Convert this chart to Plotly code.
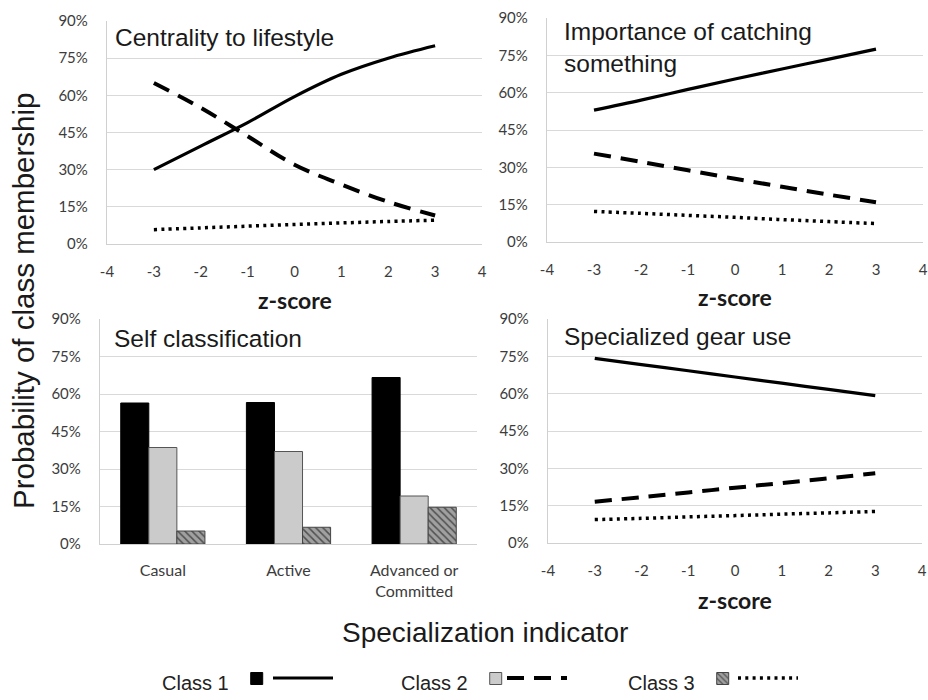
import plotly.graph_objects as go

# ---------------- data ----------------
z = [-3, -2, -1, 0, 1, 2, 3]
z_tick_vals = [-4, -3, -2, -1, 0, 1, 2, 3, 4]
z_tick_text = ["-4", "-3", "-2", "-1", "0", "1", "2", "3", "4"]
pct_tick_vals = [0, 15, 30, 45, 60, 75, 90]
pct_tick_text = ["0%", "15%", "30%", "45%", "60%", "75%", "90%"]

centrality_c1 = [30, 39.5, 49, 59.5, 68.5, 75, 80]
centrality_c2 = [65, 55, 43.5, 32, 24, 17, 11.5]
centrality_c3 = [5.8, 6.5, 7.2, 7.9, 8.5, 9.1, 9.6]

catching_c1 = [53, 57, 61.3, 65.5, 69.5, 73.5, 77.5]
catching_c2 = [35.5, 32.2, 28.8, 25.4, 22.2, 19, 16]
catching_c3 = [12.3, 11.5, 10.7, 9.9, 9.0, 8.2, 7.4]

gear_c1 = [74.2, 71.7, 69.2, 66.7, 64.2, 61.7, 59.2]
gear_c2 = [16.6, 18.4, 20.3, 22.2, 24.1, 26, 28]
gear_c3 = [9.4, 9.9, 10.5, 11.0, 11.6, 12.1, 12.7]

self_categories = ["Casual", "Active", "Advanced or<br>Committed"]
self_c1 = [56.4, 56.6, 66.6]
self_c2 = [38.6, 37.0, 19.2]
self_c3 = [5.2, 6.7, 14.7]

class_names = ["Class 1", "Class 2", "Class 3"]

# ---------------- styles ----------------
line_styles = [
    dict(color="black", width=3.2, dash="solid"),
    dict(color="black", width=4, dash="17px,10px"),
    dict(color="black", width=3.5, dash="3px,4.3px"),
]
bar_styles = [
    dict(color="black", line=dict(color="black", width=1)),
    dict(color="#cbcbcb", line=dict(color="#555555", width=1)),
    dict(color="#9a9a9a", line=dict(color="#444444", width=1),
         pattern=dict(shape="\\", fgcolor="#505050", bgcolor="#a0a0a0",
                      size=5, solidity=0.3)),
]
bar_legends = ["legend", "legend2", "legend3"]
line_legends = ["legend4", "legend5", "legend6"]

fig = go.Figure()

for i, vals in enumerate([self_c1, self_c2, self_c3]):
    fig.add_trace(go.Bar(
        x=self_categories, y=vals, marker=bar_styles[i],
        xaxis="x3", yaxis="y3", name="", legend=bar_legends[i],
        showlegend=True,
    ))

panels = [
    ("x", "y", [centrality_c1, centrality_c2, centrality_c3]),
    ("x2", "y2", [catching_c1, catching_c2, catching_c3]),
    ("x4", "y4", [gear_c1, gear_c2, gear_c3]),
]
for p, (xa, ya, series) in enumerate(panels):
    for i, vals in enumerate(series):
        fig.add_trace(go.Scatter(
            x=z, y=vals, mode="lines", line=dict(**line_styles[i], shape="spline"),
            xaxis=xa, yaxis=ya, name="", legend=line_legends[i],
            showlegend=(p == 0),
        ))

W, H = 928, 700


def px_x(a, b):
    return [a / W, b / W]


def px_y(top, bottom):
    return [1 - bottom / H, 1 - top / H]


tick_font = dict(family="Lato", size=15, color="#3c3c3c")
grid = "#d9d9d9"

common_x = dict(
    range=[-4, 4], tickvals=z_tick_vals, ticktext=z_tick_text,
    showgrid=False, zeroline=False, showline=True, linecolor="#d0d0d0",
    linewidth=1.3, ticks="outside", ticklen=14, tickcolor="rgba(0,0,0,0)",
    tickfont=tick_font, fixedrange=True, automargin=False,
)
common_y = dict(
    range=[0, 90], tickvals=pct_tick_vals, ticktext=pct_tick_text,
    showgrid=True, gridcolor=grid, gridwidth=1.3, zeroline=False,
    showline=True, linecolor="#d0d0d0", linewidth=1.3,
    ticks="outside", ticklen=15, tickcolor="rgba(0,0,0,0)",
    tickfont=tick_font, fixedrange=True, automargin=False,
)

fig.update_layout(
    template="none",
    width=W, height=H, autosize=False,
    margin=dict(l=0, r=0, t=0, b=0, pad=0),
    paper_bgcolor="white", plot_bgcolor="white",
    font=dict(family="Liberation Sans", color="#1a1a1a"),
    bargap=0.33, bargroupgap=0,
    xaxis=dict(common_x, domain=px_x(107, 482), anchor="y"),
    yaxis=dict(common_y, domain=px_y(21, 244), anchor="x"),
    xaxis2=dict(common_x, domain=px_x(547, 923), anchor="y2"),
    yaxis2=dict(common_y, domain=px_y(18, 242), anchor="x2"),
    xaxis3=dict(domain=px_x(100, 477), anchor="y3", showline=True,
                linecolor="#d0d0d0", linewidth=1.3, ticks="outside",
                ticklen=12, tickcolor="rgba(0,0,0,0)", showgrid=False,
                tickfont=dict(family="Lato", size=16, color="#3c3c3c"),
                fixedrange=True, automargin=False),
    yaxis3=dict(common_y, domain=px_y(319, 544), anchor="x3"),
    xaxis4=dict(common_x, domain=px_x(548, 922), anchor="y4"),
    yaxis4=dict(common_y, domain=px_y(319, 543), anchor="x4"),
)

bar_legend_x = [160, 399, 626]
line_legend_x = [268, 502, 733]
for i in range(3):
    fig.update_layout({bar_legends[i]: dict(
        title=dict(text=class_names[i], side="left",
                   font=dict(family="Liberation Sans", size=20, color="#222")),
        orientation="h", x=bar_legend_x[i] / W, xanchor="left",
        y=0, yanchor="bottom", bgcolor="rgba(0,0,0,0)",
        itemwidth=30, font=dict(size=2),
    )})
    fig.update_layout({line_legends[i]: dict(
        orientation="h", x=line_legend_x[i] / W, xanchor="left",
        y=1 - 678 / H, yanchor="middle", bgcolor="rgba(0,0,0,0)",
        itemwidth=60, font=dict(size=2),
    )})

title_font = dict(family="Liberation Sans", size=24.5, color="#1a1a1a")
zfont = dict(family="Lato", size=23, color="#1a1a1a", weight="bold")
anns = [
    dict(text="Centrality to lifestyle", xref="x domain", yref="y domain",
         x=0.016, y=0.924, xanchor="left", yanchor="middle", font=title_font),
    dict(text="Importance of catching<br>something", xref="x2 domain",
         yref="y2 domain", x=0.04, y=0.868, xanchor="left", yanchor="middle",
         align="left", font=title_font),
    dict(text="Self classification", xref="x3 domain", yref="y3 domain",
         x=0.032, y=0.915, xanchor="left", yanchor="middle", font=title_font),
    dict(text="Specialized gear use", xref="x4 domain", yref="y4 domain",
         x=0.037, y=0.92, xanchor="left", yanchor="middle", font=title_font),
    dict(text="z-score", xref="x domain", yref="paper", x=0.5,
         y=1 - 300 / H, yanchor="middle", font=zfont),
    dict(text="z-score", xref="x2 domain", yref="paper", x=0.5,
         y=1 - 297 / H, yanchor="middle", font=zfont),
    dict(text="z-score", xref="x4 domain", yref="paper", x=0.5,
         y=1 - 600 / H, yanchor="middle", font=zfont),
    dict(text="Probability of class membership", xref="paper", yref="paper",
         x=24 / W, y=1 - 301 / H, textangle=-90, xanchor="center",
         yanchor="middle", font=dict(family="Liberation Sans", size=29.5)),
    dict(text="Specialization indicator", xref="paper", yref="paper",
         x=485 / W, y=1 - 632 / H, xanchor="center", yanchor="middle",
         font=dict(family="Liberation Sans", size=28)),
]
for a in anns:
    a["showarrow"] = False
fig.update_layout(annotations=anns)

fig.write_html(
    "out.html", config={"displayModeBar": False},
    post_script=("document.documentElement.style.margin='0';"
                 "document.documentElement.style.padding='0';"
                 "document.body.style.margin='0';"
                 "document.body.style.padding='0';"
                 "document.body.style.overflow='hidden';"),
)
